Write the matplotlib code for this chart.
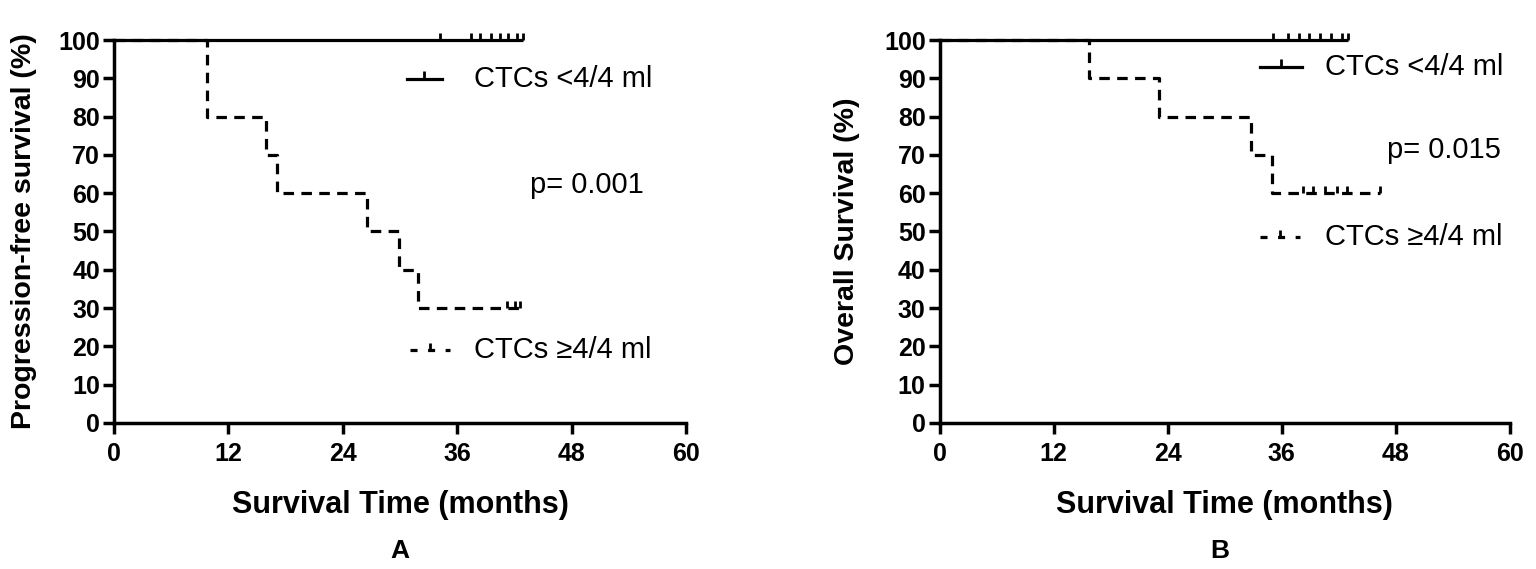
import matplotlib
matplotlib.use("Agg")
import matplotlib.pyplot as plt
import numpy as np

plt.rcParams['font.family'] = ['Liberation Sans', 'DejaVu Sans']

# ---- Data ----
xticks = [0, 12, 24, 36, 48, 60]
yticks = [0, 10, 20, 30, 40, 50, 60, 70, 80, 90, 100]

# Panel A: progression-free survival
pfs_low_end = 42.9
pfs_low_censor = [34.2, 37.4, 38.4, 39.5, 40.5, 41.3, 42.3, 42.9]
pfs_high_times = [0, 9.8, 15.9, 17.1, 26.5, 29.9, 31.9]
pfs_high_surv = [100, 80, 70, 60, 50, 40, 30]
pfs_high_end = 42.6
pfs_high_censor = [41.2, 42.1, 42.6]

# Panel B: overall survival
os_low_end = 43.0
os_low_censor = [35.1, 36.6, 37.8, 38.9, 40.0, 41.2, 42.3, 43.0]
os_high_times = [0, 15.75, 23.1, 32.8, 35.0]
os_high_surv = [100, 90, 80, 70, 60]
os_high_end = 46.3
os_high_censor = [38.2, 39.3, 40.5, 41.8, 42.8, 46.3]

label_low = "CTCs <4/4 ml"
label_high = "CTCs \u22654/4 ml"

fig = plt.figure(figsize=(15.36, 5.69), dpi=100)
axA = fig.add_axes([0.0742, 0.2566, 0.3724, 0.6731])
axB = fig.add_axes([0.6117, 0.2566, 0.3714, 0.6731])

LW = 2.3
DASH = (0, (3.3, 2.3))


def step_xy(times, surv, end):
    xs = list(times) + [end]
    ys = list(surv) + [surv[-1]]
    return xs, ys


def surv_at(times, surv, t):
    idx = np.searchsorted(times, t, side='right') - 1
    return surv[idx]


def draw_panel(ax, low_end, low_censor, hi_t, hi_s, hi_end, hi_censor,
               ylabel, ylab_x, letter, pval, pxy, leg1, leg2):
    # low group (solid)
    ax.plot([0, low_end], [100, 100], color='black', lw=LW, clip_on=False,
            solid_capstyle='butt', zorder=5)
    ax.plot(low_censor, [100] * len(low_censor), ls='none', marker=2,
            ms=5, mew=2, color='black', clip_on=False, zorder=5)
    # high group (dashed)
    xs, ys = step_xy(hi_t, hi_s, hi_end)
    ax.step(xs, ys, where='post', color='black', lw=LW, ls=DASH,
            clip_on=False, zorder=4)
    cy = [surv_at(hi_t, hi_s, t) for t in hi_censor]
    ax.plot(hi_censor, cy, ls='none', marker=2, ms=5, mew=2,
            color='black', clip_on=False, zorder=5)

    ax.set_xlim(0, 60)
    ax.set_ylim(0, 100)
    ax.set_xticks(xticks)
    ax.set_yticks(yticks)
    for s in ['top', 'right']:
        ax.spines[s].set_visible(False)
    for s in ['left', 'bottom']:
        ax.spines[s].set_linewidth(2.5)
    ax.tick_params(axis='both', direction='out', length=8, width=2.5,
                   labelsize=18, pad=2)
    for lab in ax.get_xticklabels() + ax.get_yticklabels():
        lab.set_fontweight('bold')
    ax.tick_params(axis='x', pad=6)

    ax.set_xlabel("Survival Time (months)", fontsize=22, fontweight='bold')
    ax.xaxis.set_label_coords(0.5, -0.175)
    ax.set_ylabel(ylabel, fontsize=20.5, fontweight='bold')
    ax.yaxis.set_label_coords(ylab_x, 0.5)

    ax.text(letter[1], -0.335, letter[0], transform=ax.transAxes,
            fontsize=19, fontweight='bold', ha='center', va='center')
    ax.text(pxy[0], pxy[1], pval, transform=ax.transAxes, fontsize=21,
            ha='left', va='center')

    # legend (manual)
    x0, x1, y, tx = leg1
    ax.plot([x0, x1], [y, y], transform=ax.transAxes, color='black',
            lw=LW, clip_on=False)
    ax.plot([(x0 + x1) / 2], [y], transform=ax.transAxes, marker=2,
            ms=6, mew=2, color='black', clip_on=False)
    ax.text(tx, y, label_low, transform=ax.transAxes, fontsize=21,
            ha='left', va='center')
    x0, x1, y, tx = leg2
    ax.plot([x0, x1], [y, y], transform=ax.transAxes, color='black',
            lw=LW, ls=(0, (2.2, 3.3)), clip_on=False)
    ax.plot([(x0 + x1) / 2], [y], transform=ax.transAxes, marker=2,
            ms=5, mew=2, color='black', clip_on=False)
    ax.text(tx, y, label_high, transform=ax.transAxes, fontsize=21,
            ha='left', va='center')


draw_panel(axA, pfs_low_end, pfs_low_censor, pfs_high_times, pfs_high_surv,
           pfs_high_end, pfs_high_censor,
           "Progression-free survival (%)", -0.135, ("A", 0.5), "p= 0.001",
           (0.727, 0.621),
           (0.512, 0.573, 0.898, 0.629),
           (0.517, 0.587, 0.19, 0.629))

draw_panel(axB, os_low_end, os_low_censor, os_high_times, os_high_surv,
           os_high_end, os_high_censor,
           "Overall Survival (%)", -0.14, ("B", 0.492), "p= 0.015",
           (0.784, 0.713),
           (0.562, 0.635, 0.929, 0.676),
           (0.562, 0.632, 0.486, 0.676))

fig.savefig("out.png", dpi=100)
